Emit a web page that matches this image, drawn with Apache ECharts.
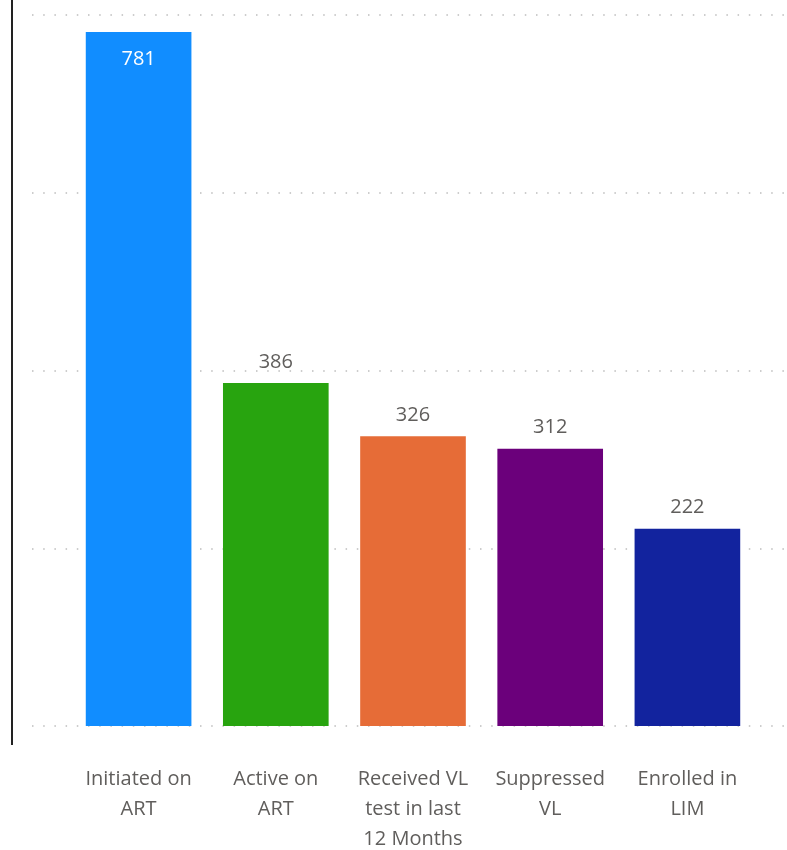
<!DOCTYPE html>
<html>
<head>
<meta charset="utf-8">
<script src="https://cdn.jsdelivr.net/npm/echarts@6/dist/echarts.min.js"></script>
<style>
    html, body { margin: 0; padding: 0; background: #fff; }
    #chart { width: 787px; height: 850px; }
</style>
</head>
<body>
<div id="chart"></div>
<script>
    // data
    var categories = ['Initiated on\nART', 'Active on\nART', 'Received VL\ntest in last\n12 Months', 'Suppressed\nVL', 'Enrolled in\nLIM']
    var values = [781, 386, 326, 312, 222]
    var barColors = ['#118DFF', '#28A40F', '#E66C37', '#6B007B', '#12239E']
    var yTicks = [0, 200, 400, 600, 800]

    var labelColor = '#605E5C'
    var font = '"Open Sans", "Noto Sans", sans-serif'

    var barData = values.map(function (v, i) {
        var item = { value: v, itemStyle: { color: barColors[i] } }
        // the tallest bar keeps its label inside, in white
        if (i === 0) {
            item.label = { position: 'insideTop', color: '#fff', distance: 17 }
        }
        return item
    })

    var option = {
        animation: false,
        grid: [
            // background grid: only the dotted lines
            { left: 32, right: 0, top: 15, bottom: 124, outerBoundsMode: 'none' },
            // bars
            { left: 70, right: 31, top: 15, bottom: 124, outerBoundsMode: 'none' }
        ],
        xAxis: [
            { gridIndex: 0, type: 'category', data: categories, show: false },
            {
                gridIndex: 1,
                type: 'category',
                data: categories,
                axisLine: { show: false },
                axisTick: { show: false },
                axisLabel: {
                    interval: 0,
                    margin: 38,
                    color: labelColor,
                    fontFamily: font,
                    fontSize: 20,
                    lineHeight: 30
                }
            }
        ],
        yAxis: [
            {
                gridIndex: 0,
                type: 'value',
                min: yTicks[0],
                max: yTicks[yTicks.length - 1],
                interval: 200,
                axisLine: { show: false },
                axisTick: { show: false },
                axisLabel: { show: false },
                splitLine: {
                    show: true,
                    lineStyle: { color: '#bdbdbd', width: 1.5, type: [1.5, 9.7] }
                }
            },
            {
                gridIndex: 1,
                type: 'value',
                min: yTicks[0],
                max: yTicks[yTicks.length - 1],
                interval: 200,
                show: false,
                splitLine: { show: false }
            }
        ],
        graphic: [{
            type: 'line',
            shape: { x1: 12, y1: 0, x2: 12, y2: 745 },
            style: { stroke: '#222', lineWidth: 2 }
        }],
        series: [{
            type: 'bar',
            xAxisIndex: 1,
            yAxisIndex: 1,
            data: barData,
            barCategoryGap: '23%',
            label: {
                show: true,
                position: 'top',
                distance: 11,
                color: labelColor,
                fontFamily: font,
                fontSize: 20
            }
        }]
    }

    var chart = echarts.init(document.getElementById('chart'))
    chart.setOption(option)
</script>
</body>
</html>
